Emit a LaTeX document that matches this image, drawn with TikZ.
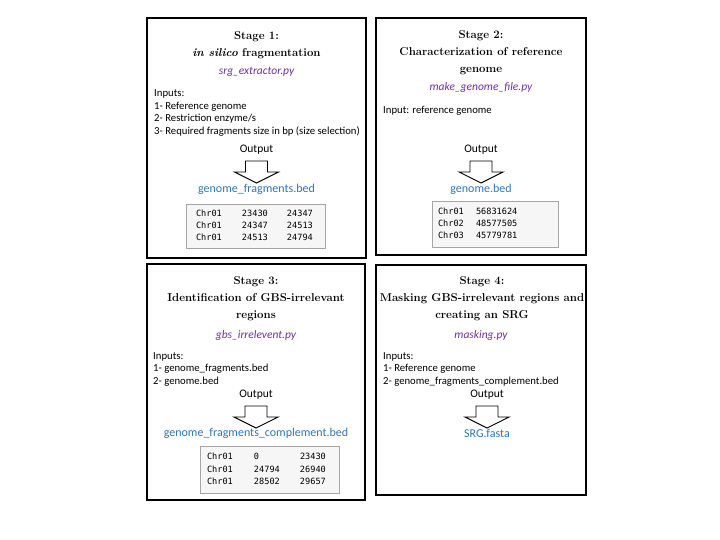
\documentclass[tikz,border=0pt]{standalone}
\usepackage{fontspec}
\setsansfont{Carlito}
\setmonofont{DejaVu Sans Mono}
\definecolor{scriptpurple}{RGB}{112,48,160}
\definecolor{fileblue}{RGB}{46,117,182}
\definecolor{bedgray}{RGB}{166,166,166}
\definecolor{bedfill}{RGB}{246,246,246}

\begin{document}
\begin{tikzpicture}[x=1pt,y=-1pt,
  stagebox/.style={line width=1.3pt},
  heading/.style={font=\bfseries\fontsize{11.4}{17}\selectfont, align=center, inner sep=0pt},
  script/.style={font=\sffamily\itshape\fontsize{11.5}{14}\selectfont, text=scriptpurple, inner sep=0pt},
  inputs/.style={font=\sffamily\fontsize{10.7}{12.5}\selectfont, align=left, anchor=west, inner sep=0pt},
  outlabel/.style={font=\sffamily\fontsize{11.5}{14}\selectfont, inner sep=0pt},
  outarrow/.style={line width=0.9pt, fill=white, line join=miter},
  fname/.style={font=\sffamily\fontsize{12}{14}\selectfont, text=fileblue, inner sep=0pt},
  bedbox/.style={draw=bedgray, fill=bedfill, line width=0.8pt,
    font=\ttfamily\fontsize{8.6}{12.5}\selectfont, inner ysep=0pt}]
 \useasboundingbox (0,0) rectangle (720,540);
 % stage frames
 \draw[stagebox] (147,18) rectangle (366,258);
 \draw[stagebox] (376,18) rectangle (586,255);
 \draw[stagebox] (147,264) rectangle (365,500);
 \draw[stagebox] (376,265) rectangle (586,495);

 % stage 1
 \node[heading] (h1) at (256.5,45) {Stage 1:\\\textit{in silico} fragmentation};
 \node[script] (s1) at (256.5,72) {srg\_extractor.py};
 \node[inputs] (i1) at (154,113) {Inputs:\\1- Reference genome\\2- Restriction enzyme/s\\3- Required fragments size in bp (size selection)};
 \node[outlabel] (o1) at (256.5,150) {Output};
 \draw[outarrow] (o1.center) ++(-11,11) -- ++(22,0) -- ++(0,11) -- ++(11,0) -- ++(-22,11) -- ++(-22,-11) -- ++(11,0) -- cycle;
 \node[fname] (f1) at (256.5,189) {genome\_fragments.bed};
 \node[bedbox, minimum height=44pt, inner xsep=10pt] (b1) at (255.5,226) {%
   \begin{tabular}{@{}p{46pt}@{}p{45pt}@{}p{28pt}@{}}
   Chr01 & 23430 & 24347\\
   Chr01 & 24347 & 24513\\
   Chr01 & 24513 & 24794
   \end{tabular}};

 % stage 2
 \node[heading] (h2) at (481,53) {Stage 2:\\Characterization of reference\\genome};
 \node[script] (s2) at (481,87) {make\_genome\_file.py};
 \node[inputs] (i2) at (383,111) {Input: reference genome};
 \node[outlabel] (o2) at (481,150) {Output};
 \draw[outarrow] (o2.center) ++(-11,11) -- ++(22,0) -- ++(0,11) -- ++(11,0) -- ++(-22,11) -- ++(-22,-11) -- ++(11,0) -- cycle;
 \node[fname] (f2) at (481,189) {genome.bed};
 \node[bedbox, minimum height=46pt, inner xsep=6pt] (b2) at (495,224) {%
   \begin{tabular}{@{}p{38pt}@{}p{76pt}@{}}
   Chr01 & 56831624\\
   Chr02 & 48577505\\
   Chr03 & 45779781
   \end{tabular}};

 % stage 3
 \node[heading] (h3) at (256,298.5) {Stage 3:\\Identification of GBS-irrelevant\\regions};
 \node[script] (s3) at (256,335) {gbs\_irrelevent.py};
 \node[inputs] (i3) at (153,369) {Inputs:\\1- genome\_fragments.bed\\2- genome.bed};
 \node[outlabel] (o3) at (256,395) {Output};
 \draw[outarrow] (o3.center) ++(-11,11) -- ++(22,0) -- ++(0,11) -- ++(11,0) -- ++(-22,11) -- ++(-22,-11) -- ++(11,0) -- cycle;
 \node[fname] (f3) at (256,433) {genome\_fragments\_complement.bed};
 \node[bedbox, minimum height=47pt, inner xsep=7pt] (b3) at (269.5,469.5) {%
   \begin{tabular}{@{}p{47pt}@{}p{46pt}@{}p{32pt}@{}}
   Chr01 & 0 & 23430\\
   Chr01 & 24794 & 26940\\
   Chr01 & 28502 & 29657
   \end{tabular}};

 % stage 4
 \node[heading] (h4) at (482,298.5) {Stage 4:\\Masking GBS-irrelevant regions and\\creating an SRG};
 \node[script] (s4) at (481,335) {masking.py};
 \node[inputs] (i4) at (383,369) {Inputs:\\1- Reference genome\\2- genome\_fragments\_complement.bed};
 \node[outlabel] (o4) at (487,395) {Output};
 \draw[outarrow] (o4.center) ++(-11,11) -- ++(22,0) -- ++(0,11) -- ++(11,0) -- ++(-22,11) -- ++(-22,-11) -- ++(11,0) -- cycle;
 \node[fname] (f4) at (487,433) {SRG.fasta};
\end{tikzpicture}
\end{document}
